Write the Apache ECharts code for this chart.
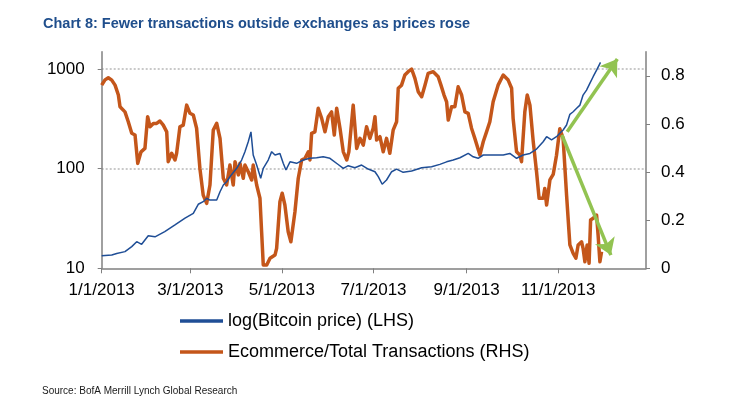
<!DOCTYPE html>
<html><head><meta charset="utf-8">
<script src="https://cdn.jsdelivr.net/npm/echarts@6/dist/echarts.min.js"></script>
<style>html,body{margin:0;padding:0;background:#fff}#c{width:736px;height:418px}</style>
</head><body><div id="c"></div>
<script>
const titleText = 'Chart 8: Fewer transactions outside exchanges as prices rose';
const sourceText = 'Source: BofA Merrill Lynch Global Research';
const seriesNames = ['log(Bitcoin price) (LHS)', 'Ecommerce/Total Transactions (RHS)'];
const xTickDates = ['2013-01-01','2013-03-01','2013-05-01','2013-07-01','2013-09-01','2013-11-01'];
const xTickLabels = ['1/1/2013','3/1/2013','5/1/2013','7/1/2013','9/1/2013','11/1/2013'];
const leftTicks = [10, 100, 1000];
const leftTickLabels = ['10', '100', '1000'];
const rightTicks = [0, 0.2, 0.4, 0.6, 0.8];

// day offsets from 1 Jan 2013
const priceDays = [0,6.7,10,15.5,20,23.3,26.6,31,35.5,42,48.8,55.5,61,64.3,67.6,70,72,76.6,78.8,81,83.2,85.4,89.9,93.2,95.4,97.6,99.4,100.9,103.2,105.9,107.6,110.9,113.2,115.4,118.7,120.9,122.7,125.4,129.8,134.2,138.7,143.1,147.5,152,157.5,160.9,164.2,168.6,173.1,177.5,182,184.2,186.8,189.7,193.1,196.4,200.8,206.4,213.1,219.7,225.2,229.7,234.1,238.6,244.1,247.4,250.7,254.1,260.7,267.4,271.8,276.3,280.7,285.2,289.6,294,296.3,299.6,302.9,305.1,307.3,309.6,311.8,314,316.3,318.5,320.6,322.9,325.1,327.3,329.6,332.2];
const priceValues = [13.4,13.6,14.1,14.7,16.5,18.5,17.4,21.2,20.7,23.3,27.2,31.8,35.6,43.9,46.6,50.4,48.4,48.4,58.6,68.5,73.9,82.9,100.7,121.9,147.8,186,234,137,108.6,80,100.7,122,148,137,142,113,96.9,117,113,122,127,128.5,131.5,127,110,100.7,107,102,108.6,99,93.1,83,69.7,76.9,93.1,99,91.8,94.6,102,104.5,110.4,117,122,128.5,142,131.5,127,137,137,137,142,127,137,142,157,186,209,194,209,226,244,274,351,372,403,434,547,614,717,836,975,1164];

const ratioDays = [0,2.2,4.4,6.7,8.9,11.1,12.2,15.5,17.7,20,22.2,24,26.2,28.8,30.6,32.2,34.4,36.6,38.8,41,43.3,44.3,46.6,48.8,49.9,52.1,54.3,56.6,58.8,61,63.2,65.4,67.6,69.9,72.1,74.3,76.6,78.8,81,83.2,85.4,87.6,88.8,91,92.1,94.3,95.4,97.6,99.9,100.9,103.2,105.4,106.5,107.6,109.9,112.1,115.4,116.5,118.7,120.2,122,124.2,126,128.7,130.9,133.2,135.4,137.6,138.7,139.8,142,144.2,146.5,148.7,150.9,153.1,154.9,156.5,158.7,160.9,163.2,164.6,167.5,169.8,172,174.2,176.4,178.6,180.8,182,183.1,185.3,187.5,189.7,191.9,194.1,196.4,197.5,199.7,201.9,204.1,206.4,208.6,210.8,213.1,215.3,217.4,220.8,224.1,226,228,229.7,230.8,233,235.2,237.4,239.7,241.9,244.1,246.3,248.5,251.9,254.1,256.3,258.5,260.7,264,267.4,270.7,273,274,276.3,278.5,279.6,281.8,283.4,285.2,287.4,289.6,291.3,294,295.1,296.3,298.5,300.7,302.9,305.1,307.3,309.6,311.8,314,315.8,317.3,319.6,320.6,321.8,323.3,324.6,325.6,327.3,329.6,330.6,331.8,332.9];
const ratioValues = [0.761,0.783,0.792,0.782,0.761,0.720,0.671,0.650,0.609,0.561,0.554,0.436,0.484,0.498,0.630,0.588,0.602,0.602,0.612,0.595,0.567,0.443,0.478,0.450,0.478,0.588,0.595,0.678,0.644,0.637,0.582,0.415,0.304,0.270,0.346,0.574,0.602,0.540,0.374,0.346,0.429,0.346,0.443,0.388,0.436,0.374,0.429,0.401,0.367,0.429,0.346,0.291,0.152,0.014,0.014,0.042,0.055,0.083,0.277,0.312,0.263,0.152,0.110,0.235,0.374,0.450,0.457,0.484,0.450,0.561,0.567,0.665,0.623,0.567,0.630,0.650,0.554,0.665,0.582,0.484,0.450,0.484,0.678,0.498,0.540,0.512,0.588,0.540,0.582,0.630,0.533,0.547,0.484,0.540,0.478,0.574,0.609,0.748,0.761,0.803,0.817,0.828,0.789,0.734,0.713,0.761,0.810,0.817,0.796,0.760,0.720,0.692,0.616,0.671,0.671,0.754,0.720,0.650,0.644,0.582,0.540,0.471,0.526,0.567,0.609,0.692,0.761,0.803,0.782,0.748,0.623,0.484,0.471,0.443,0.650,0.720,0.678,0.526,0.401,0.291,0.291,0.332,0.263,0.367,0.390,0.470,0.580,0.540,0.304,0.097,0.062,0.042,0.097,0.110,0.083,0.027,0.097,0.021,0.201,0.208,0.221,0.138,0.027,0.069];

const upArrowDays = [310, 343.4];
const upArrowValues = [235, 1256];
const downArrowDays = [306.5, 339.1];
const downArrowValues = [0.554, 0.055];

const axisMaxDay = 362.5;
const leftMax = 1490;
const rightMax = 0.9;

const DAY = 86400000;
const T0 = Date.UTC(2013, 0, 1);
const toTime = d => T0 + d * DAY;
const parseDate = s => { const p = s.split('-').map(Number); return Date.UTC(p[0], p[1] - 1, p[2]); };
const xTickTimes = xTickDates.map(parseDate);
const nearestIdx = (arr, v) => { let b = 0; arr.forEach((t, i) => { if (Math.abs(t - v) < Math.abs(arr[b] - v)) b = i; }); return b; };

const priceData = priceDays.map((d, i) => [toTime(d), priceValues[i]]);
const ratioData = ratioDays.map((d, i) => [toTime(d), ratioValues[i]]);

const BLUE = '#1F4E96';
const ORANGE = '#C4561A';
const GREEN = '#92C351';
const AXIS = '#808080';
const FONT = "'Liberation Sans', Arial, sans-serif";

const chart = echarts.init(document.getElementById('c'), null, { renderer: 'canvas' });
chart.setOption({
  animation: false,
  backgroundColor: '#fff',
  textStyle: { fontFamily: FONT },
  title: [
    { text: titleText, left: 43, top: 16, padding: 0,
      textStyle: { fontFamily: FONT, fontSize: 14.5, fontWeight: 'bold', color: '#1F4E8C', lineHeight: 15 } },
    { text: sourceText, left: 42, top: 386, padding: 0,
      textStyle: { fontFamily: FONT, fontSize: 10, fontWeight: 'normal', color: '#1a1a1a', lineHeight: 11 } }
  ],
  legend: {
    orient: 'vertical', left: 180, top: 311, padding: 0, itemGap: 11,
    itemWidth: 43, itemHeight: 3.5, icon: 'rect',
    textStyle: { fontFamily: FONT, fontSize: 18, color: '#000', lineHeight: 20 },
    data: seriesNames
  },
  grid: { left: 101.7, right: 90, top: 51.7, bottom: 149.7, containLabel: false, outerBoundsMode: 'none' },
  xAxis: {
    type: 'value', min: T0, max: toTime(axisMaxDay), scale: true,
    axisLine: { show: true, onZero: false, lineStyle: { color: AXIS, width: 1.5 } },
    axisTick: { show: true, length: 5, customValues: xTickTimes, lineStyle: { color: AXIS, width: 1 } },
    axisLabel: {
      customValues: xTickTimes, margin: 14, fontSize: 17, color: '#000', fontFamily: FONT,
      formatter: v => xTickLabels[nearestIdx(xTickTimes, v)]
    },
    splitLine: { show: false }
  },
  yAxis: [
    { type: 'log', logBase: 10, min: 10, max: leftMax, position: 'left',
      axisLine: { show: true, lineStyle: { color: AXIS, width: 1.5 } },
      axisTick: { show: true, inside: false, length: 4, customValues: leftTicks, lineStyle: { color: AXIS } },
      axisLabel: { customValues: leftTicks, margin: 17, fontSize: 17, color: '#000', fontFamily: FONT,
        formatter: v => leftTickLabels[nearestIdx(leftTicks, v)] },
      splitLine: { show: true, showMinLine: false, lineStyle: { color: '#b8b8b8', width: 1.5, type: [2, 2] } }
    },
    { type: 'value', min: 0, max: rightMax, position: 'right',
      axisLine: { show: true, lineStyle: { color: AXIS, width: 1.5 } },
      axisTick: { show: true, inside: false, length: 4, customValues: rightTicks, lineStyle: { color: AXIS } },
      axisLabel: { customValues: rightTicks, margin: 15, fontSize: 17, color: '#000', fontFamily: FONT },
      splitLine: { show: false }
    }
  ],
  series: [
    { name: seriesNames[0], type: 'line', yAxisIndex: 0, data: priceData, showSymbol: false, symbol: 'none',
      lineStyle: { color: BLUE, width: 1.5 }, itemStyle: { color: BLUE }, z: 3,
      markLine: { silent: true, symbol: ['none', 'arrow'], symbolSize: 16, label: { show: false },
        lineStyle: { color: GREEN, width: 3.5, type: 'solid' }, emphasis: { disabled: true },
        data: [[{ coord: [toTime(upArrowDays[0]), upArrowValues[0]] }, { coord: [toTime(upArrowDays[1]), upArrowValues[1]] }]] } },
    { name: seriesNames[1], type: 'line', yAxisIndex: 1, data: ratioData, showSymbol: false, symbol: 'none',
      lineStyle: { color: ORANGE, width: 3.5, join: 'round' }, itemStyle: { color: ORANGE }, z: 2,
      markLine: { silent: true, symbol: ['none', 'arrow'], symbolSize: 16, label: { show: false },
        lineStyle: { color: GREEN, width: 3.5, type: 'solid' }, emphasis: { disabled: true },
        data: [[{ coord: [toTime(downArrowDays[0]), downArrowValues[0]] }, { coord: [toTime(downArrowDays[1]), downArrowValues[1]] }]] } }
  ]
});
</script></body></html>
